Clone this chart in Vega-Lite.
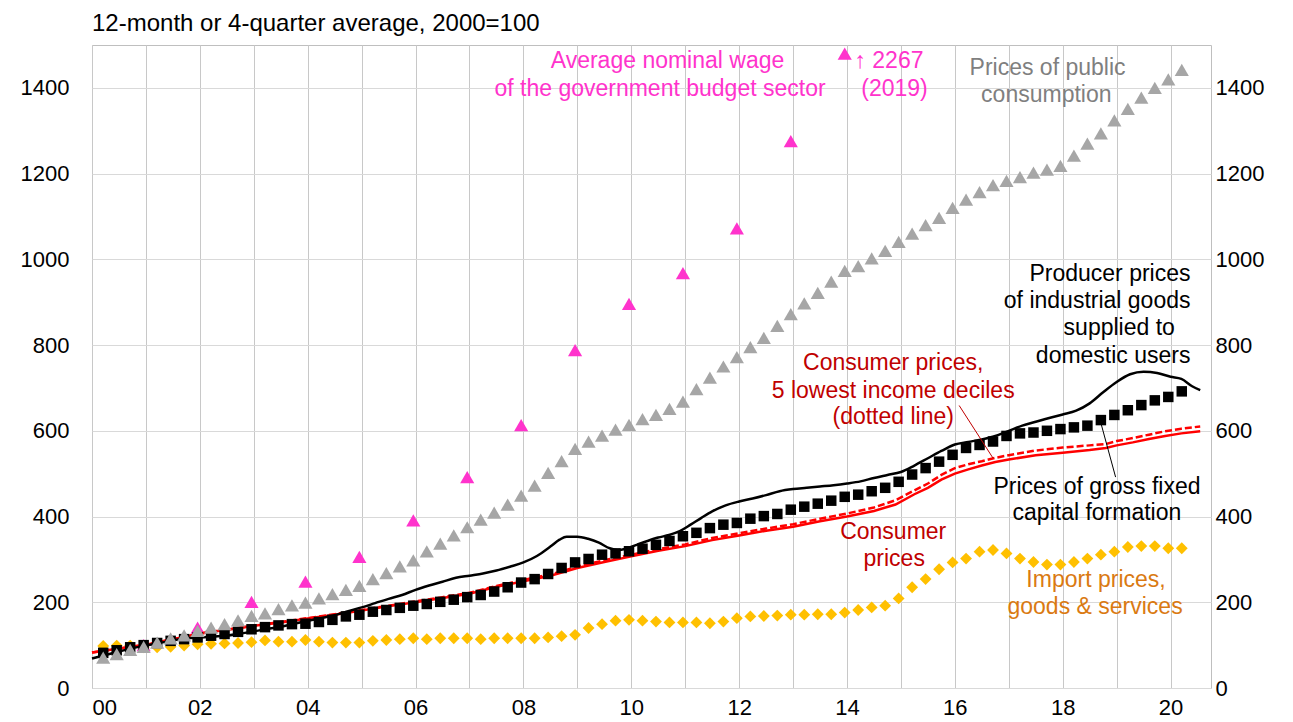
{
  "$schema": "https://vega.github.io/schema/vega-lite/v6.json",
  "width": 1119,
  "height": 643,
  "autosize": "none",
  "padding": {"left": 92, "top": 45, "right": 82, "bottom": 34},
  "background": "#ffffff",
  "config": {
    "font": "Liberation Sans",
    "view": {"stroke": "#BFBFBF", "strokeWidth": 1},
    "axis": {"labelFont": "Liberation Sans", "labelColor": "#000000", "labelFontSize": 22},
    "text": {"font": "Liberation Sans", "fontSize": 23}
  },
  "title": {
    "text": "12-month or 4-quarter average, 2000=100",
    "anchor": "start",
    "frame": "group",
    "font": "Liberation Sans",
    "fontSize": 24,
    "fontWeight": "normal",
    "color": "#000000",
    "offset": 9
  },
  "datasets": {
    "quarterly": [
      {"t": 2000.208, "pub": 71, "gfcf": 82, "imp": 98},
      {"t": 2000.458, "pub": 79, "gfcf": 88, "imp": 99},
      {"t": 2000.708, "pub": 89, "gfcf": 95, "imp": 99},
      {"t": 2000.958, "pub": 96, "gfcf": 100, "imp": 95},
      {"t": 2001.208, "pub": 106, "gfcf": 105, "imp": 95},
      {"t": 2001.458, "pub": 116, "gfcf": 110, "imp": 96},
      {"t": 2001.708, "pub": 123, "gfcf": 114, "imp": 99},
      {"t": 2001.958, "pub": 133, "gfcf": 118, "imp": 102},
      {"t": 2002.208, "pub": 141, "gfcf": 122, "imp": 103},
      {"t": 2002.458, "pub": 149, "gfcf": 126, "imp": 104},
      {"t": 2002.708, "pub": 158, "gfcf": 131, "imp": 105},
      {"t": 2002.958, "pub": 168, "gfcf": 137, "imp": 107},
      {"t": 2003.208, "pub": 174, "gfcf": 142, "imp": 111},
      {"t": 2003.458, "pub": 184, "gfcf": 146, "imp": 108},
      {"t": 2003.708, "pub": 193, "gfcf": 149, "imp": 108},
      {"t": 2003.958, "pub": 199, "gfcf": 150, "imp": 112},
      {"t": 2004.208, "pub": 209, "gfcf": 154, "imp": 108},
      {"t": 2004.458, "pub": 219, "gfcf": 159, "imp": 106},
      {"t": 2004.708, "pub": 229, "gfcf": 167, "imp": 106},
      {"t": 2004.958, "pub": 238, "gfcf": 171, "imp": 106},
      {"t": 2005.208, "pub": 254, "gfcf": 178, "imp": 110},
      {"t": 2005.458, "pub": 268, "gfcf": 182, "imp": 112},
      {"t": 2005.708, "pub": 284, "gfcf": 187, "imp": 114},
      {"t": 2005.958, "pub": 298, "gfcf": 192, "imp": 116},
      {"t": 2006.208, "pub": 319, "gfcf": 196, "imp": 114},
      {"t": 2006.458, "pub": 337, "gfcf": 201, "imp": 116},
      {"t": 2006.708, "pub": 356, "gfcf": 206, "imp": 116},
      {"t": 2006.958, "pub": 375, "gfcf": 212, "imp": 116},
      {"t": 2007.208, "pub": 393, "gfcf": 217, "imp": 114},
      {"t": 2007.458, "pub": 409, "gfcf": 225, "imp": 116},
      {"t": 2007.708, "pub": 428, "gfcf": 235, "imp": 116},
      {"t": 2007.958, "pub": 449, "gfcf": 246, "imp": 116},
      {"t": 2008.208, "pub": 472, "gfcf": 254, "imp": 116},
      {"t": 2008.458, "pub": 502, "gfcf": 266, "imp": 118},
      {"t": 2008.708, "pub": 529, "gfcf": 280, "imp": 121},
      {"t": 2008.958, "pub": 558, "gfcf": 293, "imp": 124},
      {"t": 2009.208, "pub": 575, "gfcf": 301, "imp": 140},
      {"t": 2009.458, "pub": 589, "gfcf": 311, "imp": 149},
      {"t": 2009.708, "pub": 603, "gfcf": 314, "imp": 157},
      {"t": 2009.958, "pub": 614, "gfcf": 319, "imp": 159},
      {"t": 2010.208, "pub": 627, "gfcf": 325, "imp": 157},
      {"t": 2010.458, "pub": 637, "gfcf": 334, "imp": 155},
      {"t": 2010.708, "pub": 651, "gfcf": 343, "imp": 153},
      {"t": 2010.958, "pub": 668, "gfcf": 354, "imp": 153},
      {"t": 2011.208, "pub": 697, "gfcf": 362, "imp": 153},
      {"t": 2011.458, "pub": 724, "gfcf": 373, "imp": 151},
      {"t": 2011.708, "pub": 750, "gfcf": 381, "imp": 155},
      {"t": 2011.958, "pub": 772, "gfcf": 385, "imp": 163},
      {"t": 2012.208, "pub": 795, "gfcf": 395, "imp": 167},
      {"t": 2012.458, "pub": 817, "gfcf": 401, "imp": 168},
      {"t": 2012.708, "pub": 845, "gfcf": 406, "imp": 169},
      {"t": 2012.958, "pub": 872, "gfcf": 416, "imp": 171},
      {"t": 2013.208, "pub": 897, "gfcf": 423, "imp": 171},
      {"t": 2013.458, "pub": 922, "gfcf": 430, "imp": 172},
      {"t": 2013.708, "pub": 948, "gfcf": 437, "imp": 172},
      {"t": 2013.958, "pub": 973, "gfcf": 446, "imp": 176},
      {"t": 2014.208, "pub": 984, "gfcf": 451, "imp": 182},
      {"t": 2014.458, "pub": 1002, "gfcf": 459, "imp": 188},
      {"t": 2014.708, "pub": 1020, "gfcf": 467, "imp": 192},
      {"t": 2014.958, "pub": 1041, "gfcf": 481, "imp": 209},
      {"t": 2015.208, "pub": 1060, "gfcf": 498, "imp": 235},
      {"t": 2015.458, "pub": 1080, "gfcf": 513, "imp": 254},
      {"t": 2015.708, "pub": 1097, "gfcf": 528, "imp": 277},
      {"t": 2015.958, "pub": 1120, "gfcf": 544, "imp": 293},
      {"t": 2016.208, "pub": 1139, "gfcf": 560, "imp": 302},
      {"t": 2016.458, "pub": 1157, "gfcf": 567, "imp": 318},
      {"t": 2016.708, "pub": 1173, "gfcf": 575, "imp": 322},
      {"t": 2016.958, "pub": 1183, "gfcf": 588, "imp": 314},
      {"t": 2017.208, "pub": 1192, "gfcf": 594, "imp": 302},
      {"t": 2017.458, "pub": 1202, "gfcf": 596, "imp": 294},
      {"t": 2017.708, "pub": 1209, "gfcf": 600, "imp": 288},
      {"t": 2017.958, "pub": 1218, "gfcf": 604, "imp": 288},
      {"t": 2018.208, "pub": 1242, "gfcf": 608, "imp": 294},
      {"t": 2018.458, "pub": 1270, "gfcf": 612, "imp": 302},
      {"t": 2018.708, "pub": 1294, "gfcf": 625, "imp": 311},
      {"t": 2018.958, "pub": 1324, "gfcf": 637, "imp": 318},
      {"t": 2019.208, "pub": 1351, "gfcf": 648, "imp": 329},
      {"t": 2019.458, "pub": 1377, "gfcf": 660, "imp": 331},
      {"t": 2019.708, "pub": 1400, "gfcf": 671, "imp": 331},
      {"t": 2019.958, "pub": 1420, "gfcf": 679, "imp": 326},
      {"t": 2020.208, "pub": 1442, "gfcf": 692, "imp": 326}
    ],
    "wage": [
      {"t": 2000.958, "v": 100},
      {"t": 2001.958, "v": 141},
      {"t": 2002.958, "v": 201},
      {"t": 2003.958, "v": 248},
      {"t": 2004.958, "v": 306},
      {"t": 2005.958, "v": 391},
      {"t": 2006.958, "v": 492},
      {"t": 2007.958, "v": 613},
      {"t": 2008.958, "v": 788},
      {"t": 2009.958, "v": 896},
      {"t": 2010.958, "v": 968},
      {"t": 2011.958, "v": 1072},
      {"t": 2012.958, "v": 1276},
      {"t": 2013.958, "v": 1480}
    ],
    "ppi": [
      {"t": 2000.0, "v": 69}, {"t": 2000.25, "v": 77}, {"t": 2000.5, "v": 85}, {"t": 2000.75, "v": 93},
      {"t": 2001.0, "v": 99}, {"t": 2001.25, "v": 105}, {"t": 2001.5, "v": 111}, {"t": 2001.75, "v": 116},
      {"t": 2002.0, "v": 118}, {"t": 2002.25, "v": 120}, {"t": 2002.5, "v": 122}, {"t": 2002.75, "v": 127},
      {"t": 2003.0, "v": 132}, {"t": 2003.25, "v": 138}, {"t": 2003.5, "v": 143}, {"t": 2003.75, "v": 150},
      {"t": 2004.0, "v": 157}, {"t": 2004.25, "v": 163}, {"t": 2004.5, "v": 170}, {"t": 2004.75, "v": 179},
      {"t": 2005.0, "v": 188}, {"t": 2005.25, "v": 198}, {"t": 2005.5, "v": 208}, {"t": 2005.75, "v": 217},
      {"t": 2006.0, "v": 229}, {"t": 2006.25, "v": 239}, {"t": 2006.5, "v": 248}, {"t": 2006.75, "v": 257},
      {"t": 2007.0, "v": 262}, {"t": 2007.25, "v": 267}, {"t": 2007.5, "v": 274}, {"t": 2007.75, "v": 283},
      {"t": 2008.0, "v": 293}, {"t": 2008.25, "v": 308}, {"t": 2008.5, "v": 330}, {"t": 2008.67, "v": 346},
      {"t": 2008.8, "v": 353}, {"t": 2009.0, "v": 353}, {"t": 2009.2, "v": 348}, {"t": 2009.4, "v": 339},
      {"t": 2009.6, "v": 326}, {"t": 2009.75, "v": 322}, {"t": 2009.9, "v": 325}, {"t": 2010.1, "v": 334},
      {"t": 2010.3, "v": 343}, {"t": 2010.5, "v": 351}, {"t": 2010.7, "v": 357}, {"t": 2010.9, "v": 366},
      {"t": 2011.1, "v": 381}, {"t": 2011.3, "v": 397}, {"t": 2011.5, "v": 412}, {"t": 2011.75, "v": 426},
      {"t": 2012.0, "v": 435}, {"t": 2012.25, "v": 442}, {"t": 2012.5, "v": 450}, {"t": 2012.75, "v": 459},
      {"t": 2013.0, "v": 464}, {"t": 2013.25, "v": 467}, {"t": 2013.5, "v": 470}, {"t": 2013.75, "v": 473},
      {"t": 2014.0, "v": 477}, {"t": 2014.25, "v": 482}, {"t": 2014.5, "v": 490}, {"t": 2014.75, "v": 497},
      {"t": 2015.0, "v": 504}, {"t": 2015.25, "v": 519}, {"t": 2015.5, "v": 536}, {"t": 2015.75, "v": 553},
      {"t": 2016.0, "v": 568}, {"t": 2016.25, "v": 574}, {"t": 2016.5, "v": 580}, {"t": 2016.75, "v": 588},
      {"t": 2017.0, "v": 600}, {"t": 2017.25, "v": 612}, {"t": 2017.5, "v": 621}, {"t": 2017.75, "v": 630},
      {"t": 2018.0, "v": 638}, {"t": 2018.25, "v": 647}, {"t": 2018.5, "v": 664}, {"t": 2018.75, "v": 690},
      {"t": 2019.0, "v": 714}, {"t": 2019.25, "v": 732}, {"t": 2019.5, "v": 738}, {"t": 2019.75, "v": 735},
      {"t": 2020.0, "v": 726}, {"t": 2020.2, "v": 721}, {"t": 2020.4, "v": 704}, {"t": 2020.55, "v": 695}
    ],
    "cpi": [
      {"t": 2000.0, "v": 83}, {"t": 2000.5, "v": 92}, {"t": 2001.0, "v": 101}, {"t": 2001.5, "v": 114},
      {"t": 2002.0, "v": 127}, {"t": 2002.5, "v": 136}, {"t": 2003.0, "v": 145}, {"t": 2003.5, "v": 153},
      {"t": 2004.0, "v": 162}, {"t": 2004.5, "v": 171}, {"t": 2005.0, "v": 181}, {"t": 2005.5, "v": 191},
      {"t": 2006.0, "v": 200}, {"t": 2006.5, "v": 210}, {"t": 2007.0, "v": 220}, {"t": 2007.5, "v": 236},
      {"t": 2008.0, "v": 249}, {"t": 2008.5, "v": 262}, {"t": 2009.0, "v": 280}, {"t": 2009.5, "v": 294},
      {"t": 2010.0, "v": 307}, {"t": 2010.5, "v": 320}, {"t": 2011.0, "v": 331}, {"t": 2011.5, "v": 345},
      {"t": 2012.0, "v": 356}, {"t": 2012.5, "v": 367}, {"t": 2013.0, "v": 376}, {"t": 2013.5, "v": 389},
      {"t": 2014.0, "v": 400}, {"t": 2014.5, "v": 413}, {"t": 2014.9, "v": 428}, {"t": 2015.25, "v": 452},
      {"t": 2015.5, "v": 467}, {"t": 2015.75, "v": 486}, {"t": 2016.0, "v": 500}, {"t": 2016.25, "v": 510},
      {"t": 2016.5, "v": 519}, {"t": 2016.75, "v": 527}, {"t": 2017.0, "v": 533}, {"t": 2017.5, "v": 543},
      {"t": 2018.0, "v": 549}, {"t": 2018.5, "v": 555}, {"t": 2018.8, "v": 560}, {"t": 2019.0, "v": 566},
      {"t": 2019.3, "v": 573}, {"t": 2019.6, "v": 581}, {"t": 2019.9, "v": 588}, {"t": 2020.2, "v": 594},
      {"t": 2020.55, "v": 599}
    ],
    "cpi5": [
      {"t": 2000.0, "v": 83}, {"t": 2000.5, "v": 92}, {"t": 2001.0, "v": 101}, {"t": 2001.5, "v": 114},
      {"t": 2002.0, "v": 127}, {"t": 2002.5, "v": 136}, {"t": 2003.0, "v": 145}, {"t": 2003.5, "v": 154},
      {"t": 2004.0, "v": 163}, {"t": 2004.5, "v": 172}, {"t": 2005.0, "v": 182}, {"t": 2005.5, "v": 192},
      {"t": 2006.0, "v": 202}, {"t": 2006.5, "v": 212}, {"t": 2007.0, "v": 222}, {"t": 2007.5, "v": 238},
      {"t": 2008.0, "v": 252}, {"t": 2008.5, "v": 265}, {"t": 2009.0, "v": 283}, {"t": 2009.5, "v": 298},
      {"t": 2010.0, "v": 311}, {"t": 2010.5, "v": 324}, {"t": 2011.0, "v": 335}, {"t": 2011.5, "v": 350},
      {"t": 2012.0, "v": 361}, {"t": 2012.5, "v": 372}, {"t": 2013.0, "v": 382}, {"t": 2013.5, "v": 395},
      {"t": 2014.0, "v": 407}, {"t": 2014.5, "v": 421}, {"t": 2014.9, "v": 438}, {"t": 2015.25, "v": 461},
      {"t": 2015.5, "v": 477}, {"t": 2015.75, "v": 497}, {"t": 2016.0, "v": 513}, {"t": 2016.25, "v": 522},
      {"t": 2016.5, "v": 529}, {"t": 2016.75, "v": 537}, {"t": 2017.0, "v": 543}, {"t": 2017.5, "v": 554},
      {"t": 2018.0, "v": 561}, {"t": 2018.5, "v": 566}, {"t": 2018.8, "v": 569}, {"t": 2019.0, "v": 576},
      {"t": 2019.3, "v": 583}, {"t": 2019.6, "v": 591}, {"t": 2019.9, "v": 599}, {"t": 2020.2, "v": 605},
      {"t": 2020.55, "v": 610}
    ],
    "labels": [
      {"s": "wage", "t": 2010.672, "v": 1463, "text": "Average nominal wage"},
      {"s": "wage", "t": 2010.533, "v": 1398, "text": "of the government budget sector"},
      {"s": "wage", "t": 2014.778, "v": 1463, "text": "↑ 2267"},
      {"s": "wage", "t": 2014.881, "v": 1398, "text": "(2019)"},
      {"s": "pub", "t": 2017.719, "v": 1446, "text": "Prices of public"},
      {"s": "pub", "t": 2017.696, "v": 1384, "text": "consumption"},
      {"s": "ppi", "t": 2020.37, "v": 965, "text": "Producer prices"},
      {"s": "ppi", "t": 2020.37, "v": 903, "text": "of industrial goods"},
      {"s": "ppi", "t": 2020.08, "v": 840, "text": "supplied to"},
      {"s": "ppi", "t": 2020.37, "v": 775, "text": "domestic users"},
      {"s": "cpi5", "t": 2014.857, "v": 758, "text": "Consumer prices,"},
      {"s": "cpi5", "t": 2014.857, "v": 694, "text": "5 lowest income deciles"},
      {"s": "cpi5", "t": 2014.857, "v": 633, "text": "(dotted line)"},
      {"s": "cpi", "t": 2014.857, "v": 364, "text": "Consumer"},
      {"s": "cpi", "t": 2014.876, "v": 301, "text": "prices"},
      {"s": "gfcf", "t": 2018.635, "v": 470, "text": "Prices of gross fixed"},
      {"s": "gfcf", "t": 2018.635, "v": 408, "text": "capital formation"},
      {"s": "imp", "t": 2018.618, "v": 252, "text": "Import prices,"},
      {"s": "imp", "t": 2018.6, "v": 189, "text": "goods & services"}
    ],
    "leaders": [
      {"s": "cpi5", "t": 2016.08, "v": 659, "t2": 2016.709, "v2": 536},
      {"s": "gfcf", "t": 2018.704, "v": 620, "t2": 2018.981, "v2": 492}
    ]
  },
  "layer": [
    {
      "data": {"name": "quarterly"},
      "mark": {"type": "point", "shape": "diamond", "filled": true, "size": 140, "color": "#FFC000", "opacity": 1},
      "encoding": {
        "x": {
          "field": "t", "type": "quantitative",
          "scale": {"domain": [2000, 2020.75], "nice": false, "zero": false},
          "axis": {
            "values": [2000, 2001, 2002, 2003, 2004, 2005, 2006, 2007, 2008, 2009, 2010, 2011, 2012, 2013, 2014, 2015, 2016, 2017, 2018, 2019, 2020],
            "labelExpr": "datum.value % 2 === 0 ? substring(format(datum.value, 'd'), 2, 4) : ''",
            "grid": true, "gridColor": "#C8C8C8", "gridWidth": 1,
            "ticks": false, "domain": false, "labelPadding": 9, "title": null, "labelFontSize": 22
          }
        },
        "y": {
          "field": "imp", "type": "quantitative",
          "scale": {"domain": [0, 1500], "nice": false, "zero": true},
          "axis": {
            "orient": "left",
            "values": [0, 200, 400, 600, 800, 1000, 1200, 1400],
            "format": "d",
            "grid": true, "gridColor": "#D9D9D9", "gridWidth": 1,
            "ticks": false, "domain": false, "labelPadding": 23, "title": null, "labelFontSize": 22
          }
        }
      }
    },
    {
      "data": {"name": "wage"},
      "mark": {"type": "point", "shape": "triangle-up", "filled": true, "size": 200, "color": "#FF33CC", "opacity": 1},
      "encoding": {
        "x": {"field": "t", "type": "quantitative"},
        "y": {
          "field": "v", "type": "quantitative",
          "scale": {"domain": [0, 1500], "nice": false, "zero": true},
          "axis": {
            "orient": "right",
            "values": [0, 200, 400, 600, 800, 1000, 1200, 1400],
            "format": "d",
            "grid": false, "ticks": false, "domain": false, "labelPadding": 4, "title": null, "labelFontSize": 22
          }
        }
      }
    },
    {
      "data": {"name": "cpi"},
      "mark": {"type": "line", "color": "#FF0000", "strokeWidth": 2.5},
      "encoding": {
        "x": {"field": "t", "type": "quantitative"},
        "y": {"field": "v", "type": "quantitative", "axis": null}
      }
    },
    {
      "data": {"name": "cpi5"},
      "mark": {"type": "line", "color": "#FF0000", "strokeWidth": 2.5, "strokeDash": [7, 3]},
      "encoding": {
        "x": {"field": "t", "type": "quantitative"},
        "y": {"field": "v", "type": "quantitative", "axis": null}
      }
    },
    {
      "data": {"name": "ppi"},
      "mark": {"type": "line", "color": "#000000", "strokeWidth": 2.5, "interpolate": "monotone"},
      "encoding": {
        "x": {"field": "t", "type": "quantitative"},
        "y": {"field": "v", "type": "quantitative", "axis": null}
      }
    },
    {
      "data": {"name": "quarterly"},
      "mark": {"type": "point", "shape": "square", "filled": true, "size": 110, "color": "#000000", "opacity": 1},
      "encoding": {
        "x": {"field": "t", "type": "quantitative"},
        "y": {"field": "gfcf", "type": "quantitative", "axis": null}
      }
    },
    {
      "data": {"name": "quarterly"},
      "mark": {"type": "point", "shape": "triangle-up", "filled": true, "size": 200, "color": "#A6A6A6", "opacity": 1},
      "encoding": {
        "x": {"field": "t", "type": "quantitative"},
        "y": {"field": "pub", "type": "quantitative", "axis": null}
      }
    },
    {
      "data": {"name": "leaders"},
      "mark": {"type": "rule", "strokeWidth": 1},
      "encoding": {
        "x": {"field": "t", "type": "quantitative"},
        "y": {"field": "v", "type": "quantitative", "axis": null},
        "x2": {"field": "t2"},
        "y2": {"field": "v2"},
        "color": {
          "field": "s", "type": "nominal", "legend": null,
          "scale": {"domain": ["wage", "pub", "ppi", "cpi5", "cpi", "gfcf", "imp"], "range": ["#FF33CC", "#7F7F7F", "#000000", "#C00000", "#C00000", "#000000", "#DA7A12"]}
        }
      }
    },
    {
      "data": {"name": "labels"},
      "transform": [{"filter": "datum.s !== 'ppi'"}],
      "mark": {"type": "text", "align": "center", "baseline": "middle", "fontSize": 23, "font": "Liberation Sans"},
      "encoding": {
        "x": {"field": "t", "type": "quantitative"},
        "y": {"field": "v", "type": "quantitative", "axis": null},
        "text": {"field": "text"},
        "color": {"field": "s", "type": "nominal", "legend": null}
      }
    },
    {
      "data": {"name": "labels"},
      "transform": [{"filter": "datum.s === 'ppi'"}],
      "mark": {"type": "text", "align": "right", "baseline": "middle", "fontSize": 23, "font": "Liberation Sans"},
      "encoding": {
        "x": {"field": "t", "type": "quantitative"},
        "y": {"field": "v", "type": "quantitative", "axis": null},
        "text": {"field": "text"},
        "color": {"field": "s", "type": "nominal", "legend": null}
      }
    }
  ],
  "resolve": {"axis": {"y": "independent"}}
}
